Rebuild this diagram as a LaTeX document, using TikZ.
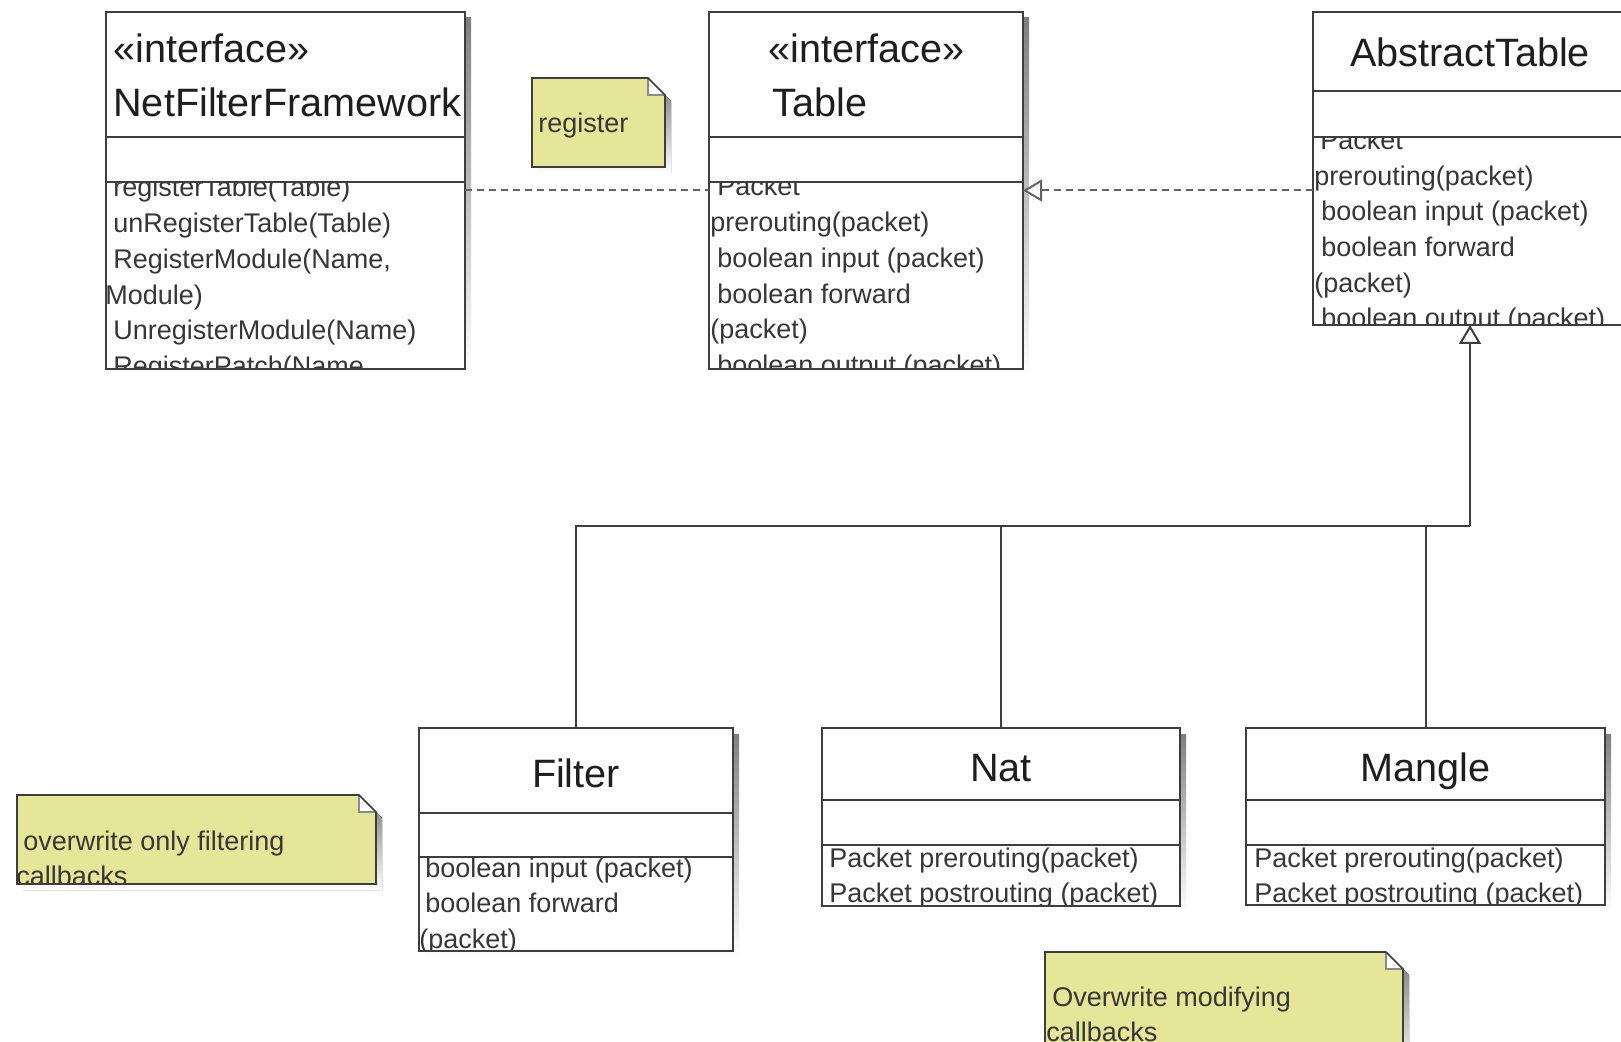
\documentclass[tikz,border=0pt]{standalone}
\usepackage{fontspec}
\setmainfont{Liberation Sans}
\usetikzlibrary{arrows.meta,fit}

\definecolor{edge}{RGB}{62,62,62}
\definecolor{dashc}{RGB}{100,100,100}
\definecolor{ink}{RGB}{30,30,30}
\definecolor{memink}{RGB}{55,55,55}
\definecolor{notefill}{RGB}{230,230,153}
\definecolor{shade}{RGB}{205,205,205}

\tikzset{
  classbody/.style={fill=white, inner sep=0pt, outer sep=0pt},
  notebody/.style={inner sep=0pt, outer sep=0pt},
  compline/.style={draw=edge, line width=1pt},
  noteline/.style={draw=edge, line width=0.8pt},
  headtxt/.style={inner sep=0pt, text=ink, font=\fontsize{19.8}{24}\selectfont},
  memtxt/.style={inner sep=0pt, anchor=base west, text=memink, font=\fontsize{13.5}{16}\selectfont},
  depline/.style={draw=dashc, line width=1pt, dash pattern=on 3.6pt off 2.4pt},
  genline/.style={draw=edge, line width=1pt},
  opentip/.style={-{Triangle[open, length=9.5pt, width=11pt, fill=white]}}
}

% class box: name, left, top, right, bottom, divider 1, divider 2, header code, member code
\newcommand\umlclass[9]{%
  \fill[shade] (#2+6,#3+6) rectangle (#4+6,#5+6);
  \node[classbody, fit={(#2,#3) (#4,#5)}] (#1) {};
  #8
  \begin{scope}
    \clip (#2,#7) rectangle (#4,#5);
    #9
  \end{scope}
  \draw[compline] (#2,#6) -- (#4,#6);
  \draw[compline] (#2,#7) -- (#4,#7);
  \draw[compline] (#1.north west) rectangle (#1.south east);
}

% note with folded corner: name, left, top, right, bottom, text code
\newcommand\umlnote[6]{%
  \fill[shade] (#2+6,#3+6) -- (#4+6-17,#3+6) -- (#4+6,#3+6+17) -- (#4+6,#5+6) -- (#2+6,#5+6) -- cycle;
  \node[notebody, fit={(#2,#3) (#4,#5)}] (#1) {};
  \fill[notefill] (#2,#3) -- (#4-17,#3) -- (#4,#3+17) -- (#4,#5) -- (#2,#5) -- cycle;
  \begin{scope}
    \clip (#2,#3) rectangle (#4,#5);
    #6
  \end{scope}
  \fill[white] (#4-17,#3) -- (#4-17,#3+17) -- (#4,#3+17) -- cycle;
  \draw[noteline, draw=edge!60] (#4-17,#3) -- (#4-17,#3+17) -- (#4,#3+17);
  \draw[noteline] (#2,#3) -- (#4-17,#3) -- (#4,#3+17) -- (#4,#5) -- (#2,#5) -- cycle;
}

\begin{document}
\begin{tikzpicture}[x=0.5pt,y=-0.5pt]
\useasboundingbox (0,0) rectangle (1621,1042);
\clip (0,0) rectangle (1621,1042);
\fill[white] (0,0) rectangle (1621,1042);

% ---------- interfaces and abstract base ----------
\umlclass{nf}{106}{12}{465}{369}{137}{182}
 {\node[headtxt, anchor=base west] (nf-st) at (113,63) {«interface»};
  \node[headtxt, anchor=base west] (nf-nm) at (113,117) {NetFilterFramework};}
 {\node[memtxt] (nf-m1) at (113,197) {registerTable(Table)};
  \node[memtxt] (nf-m2) at (113,232.7) {unRegisterTable(Table)};
  \node[memtxt] (nf-m3) at (113,268.4) {RegisterModule(Name,};
  \node[memtxt] (nf-m4) at (105,304.1) {Module)};
  \node[memtxt] (nf-m5) at (113,339.8) {UnregisterModule(Name)};
  \node[memtxt] (nf-m6) at (113,375.5) {RegisterPatch(Name};}

\umlclass{tbl}{709}{12}{1023}{369}{137}{182}
 {\node[headtxt, anchor=base west] (tbl-st) at (768,63) {«interface»};
  \node[headtxt, anchor=base west] (tbl-nm) at (772,117) {Table};}
 {\node[memtxt] (tbl-m1) at (717,196) {Packet};
  \node[memtxt] (tbl-m2) at (710,231.7) {prerouting(packet)};
  \node[memtxt] (tbl-m3) at (717,267.4) {boolean input (packet)};
  \node[memtxt] (tbl-m4) at (717,303.1) {boolean forward};
  \node[memtxt] (tbl-m5) at (710,338.8) {(packet)};
  \node[memtxt] (tbl-m6) at (717,374.5) {boolean output (packet)};}

\umlclass{abs}{1313}{12}{1627}{325}{91}{137}
 {\node[headtxt, anchor=base] (abs-nm) at (1470,67) {AbstractTable};}
 {\node[memtxt] (abs-m1) at (1320,149.5) {Packet};
  \node[memtxt] (abs-m2) at (1314,185.2) {prerouting(packet)};
  \node[memtxt] (abs-m3) at (1321,220.9) {boolean input (packet)};
  \node[memtxt] (abs-m4) at (1321,256.6) {boolean forward};
  \node[memtxt] (abs-m5) at (1314,292.3) {(packet)};
  \node[memtxt] (abs-m6) at (1321,328) {boolean output (packet)};}

% ---------- concrete tables ----------
\umlclass{flt}{419}{728}{733}{951}{813}{857}
 {\node[headtxt, anchor=base] (flt-nm) at (576,787) {Filter};}
 {\node[memtxt] (flt-m1) at (425,877) {boolean input (packet)};
  \node[memtxt] (flt-m2) at (425,912.7) {boolean forward};
  \node[memtxt] (flt-m3) at (419,948.4) {(packet)};}

\umlclass{nat}{822}{728}{1180}{906}{800}{845}
 {\node[headtxt, anchor=base] (nat-nm) at (1001,781) {Nat};}
 {\node[memtxt] (nat-m1) at (829,867) {Packet prerouting(packet)};
  \node[memtxt] (nat-m2) at (829,902.7) {Packet postrouting (packet)};}

\umlclass{mng}{1246}{728}{1605}{905}{800}{845}
 {\node[headtxt, anchor=base] (mng-nm) at (1425.5,781) {Mangle};}
 {\node[memtxt] (mng-m1) at (1254,867) {Packet prerouting(packet)};
  \node[memtxt] (mng-m2) at (1254,902.7) {Packet postrouting (packet)};}

% ---------- notes ----------
\umlnote{nreg}{532}{78}{665}{167}
 {\node[memtxt] (nreg-t) at (538,132.5) {register};}

\umlnote{nflt}{17}{795}{376}{884}
 {\node[memtxt] (nflt-t1) at (23,850) {overwrite only filtering};
  \node[memtxt] (nflt-t2) at (16,885.7) {callbacks};}

\umlnote{nmod}{1045}{952}{1403}{1070}
 {\node[memtxt] (nmod-t1) at (1052,1006) {Overwrite modifying};
  \node[memtxt] (nmod-t2) at (1046,1041.7) {callbacks};}

% ---------- relations ----------
\draw[depline] (nf.east) -- (tbl.west);
\draw[depline, opentip] (abs.west |- tbl.east) -- (tbl.east);

\coordinate (bus) at (1470,526);
\draw[genline] (flt.north) |- (bus);
\draw[genline] (nat.north) -- (nat.north |- bus);
\draw[genline] (mng.north) -- (mng.north |- bus);
\draw[genline, opentip] (bus) -- (abs.south);

\end{tikzpicture}
\end{document}
